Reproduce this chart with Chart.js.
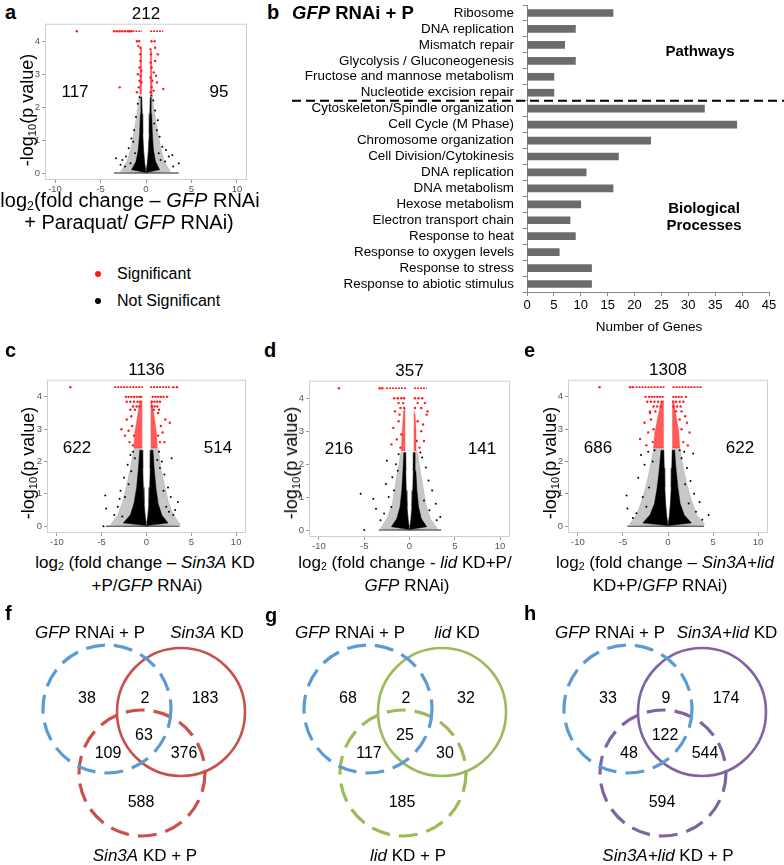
<!DOCTYPE html>
<html lang="en">
<head>
<meta charset="UTF-8">
<title>Paraquat RNA-seq panels</title>
<script src="https://cdn.jsdelivr.net/npm/chart.js"></script>
<style>
  body { margin: 0; background: #fff; font-family: Arial, "Liberation Sans", sans-serif; }
  #page { position: relative; width: 784px; height: 865px; overflow: hidden; }
  canvas { position: absolute; }
  .t { position: absolute; transform: translate(-50%, -50%); white-space: nowrap; line-height: 1; color: #000; }
  .l { position: absolute; transform: translate(0, -50%); white-space: nowrap; line-height: 1; color: #000; }
  .rot { transform: translate(-50%, -50%) rotate(-90deg); }
  .pl { font-weight: bold; font-size: 20px; }
  sub { font-size: 0.62em; vertical-align: -0.28em; line-height: 0; }
  .dot { position: absolute; width: 6px; height: 6px; border-radius: 3px; transform: translate(-50%, -50%); }
</style>
</head>
<body>
<div id="page">
  <canvas id="volcA"></canvas>
  <canvas id="volcC"></canvas>
  <canvas id="volcD"></canvas>
  <canvas id="volcE"></canvas>
  <canvas id="goBar"></canvas>
  <canvas id="vennF"></canvas>
  <canvas id="vennG"></canvas>
  <canvas id="vennH"></canvas>

  <!-- panel a -->
  <div class="l pl" style="left:5px;top:12px">a</div>
  <div class="t rot" style="left:27px;top:110px;font-size:18px">-log<sub>10</sub>(p value)</div>
  <div class="t" style="left:130px;top:200px;font-size:20px">log<sub>2</sub>(fold change – <i>GFP</i> RNAi</div>
  <div class="t" style="left:129px;top:222px;font-size:20px">+ Paraquat/ <i>GFP</i> RNAi)</div>
  <div class="dot" style="left:98px;top:274px;background:#ff1a1a"></div>
  <div class="l" style="left:117px;top:274px;font-size:16px">Significant</div>
  <div class="dot" style="left:98px;top:301px;background:#000"></div>
  <div class="l" style="left:117px;top:301px;font-size:16px">Not Significant</div>

  <!-- panel b -->
  <div class="l pl" style="left:267px;top:12px">b</div>
  <div class="l" style="left:292px;top:13px;font-size:18.5px;font-weight:bold"><i>GFP</i> RNAi + P</div>
  <div class="t" style="left:700px;top:50px;font-size:15px;font-weight:bold">Pathways</div>
  <div class="t" style="left:704px;top:207px;font-size:15px;font-weight:bold">Biological</div>
  <div class="t" style="left:704px;top:224px;font-size:15px;font-weight:bold">Processes</div>
  <div class="t" style="left:649px;top:327px;font-size:13.5px">Number of Genes</div>

  <!-- panels c, d, e -->
  <div class="l pl" style="left:5px;top:350px">c</div>
  <div class="t rot" style="left:28px;top:463px;font-size:18px">-log<sub>10</sub>(p value)</div>
  <div class="t" style="left:145px;top:562px;font-size:17px">log<sub>2</sub> (fold change – <i>Sin3A</i> KD</div>
  <div class="t" style="left:147px;top:585px;font-size:17px">+P/<i>GFP</i> RNAi)</div>

  <div class="l pl" style="left:264px;top:350px">d</div>
  <div class="t rot" style="left:291px;top:463px;font-size:18px">-log<sub>10</sub>(p value)</div>
  <div class="t" style="left:405px;top:562px;font-size:17px">log<sub>2</sub> (fold change - <i>lid</i> KD+P/</div>
  <div class="t" style="left:407px;top:585px;font-size:17px"><i>GFP</i> RNAi)</div>

  <div class="l pl" style="left:524px;top:350px">e</div>
  <div class="t rot" style="left:550px;top:463px;font-size:18px">-log<sub>10</sub>(p value)</div>
  <div class="t" style="left:665px;top:562px;font-size:17px">log<sub>2</sub> (fold change – <i>Sin3A+lid</i></div>
  <div class="t" style="left:660px;top:585px;font-size:17px">KD+P/<i>GFP</i> RNAi)</div>

  <!-- panels f, g, h -->
  <div class="l pl" style="left:5px;top:613px">f</div>
  <div class="t" style="left:90px;top:632px;font-size:17px"><i>GFP</i> RNAi + P</div>
  <div class="t" style="left:207px;top:632px;font-size:17px"><i>Sin3A</i> KD</div>
  <div class="t" style="left:145px;top:855px;font-size:17px"><i>Sin3A</i> KD + P</div>

  <div class="l pl" style="left:265px;top:615px">g</div>
  <div class="t" style="left:350px;top:632px;font-size:17px"><i>GFP</i> RNAi + P</div>
  <div class="t" style="left:457px;top:632px;font-size:17px"><i>lid</i> KD</div>
  <div class="t" style="left:408px;top:855px;font-size:17px"><i>lid</i> KD + P</div>

  <div class="l pl" style="left:524px;top:613px">h</div>
  <div class="t" style="left:610px;top:632px;font-size:17px"><i>GFP</i> RNAi + P</div>
  <div class="t" style="left:727px;top:632px;font-size:17px"><i>Sin3A+lid</i> KD</div>
  <div class="t" style="left:668px;top:855px;font-size:17px"><i>Sin3A+lid</i> KD + P</div>
</div>

<script>
// ---- data ----
// GO / KEGG enrichment (panel b)
const goTerms = ['Ribosome', 'DNA replication', 'Mismatch repair', 'Glycolysis / Gluconeogenesis',
  'Fructose and mannose metabolism', 'Nucleotide excision repair',
  'Cytoskeleton/Spindle organization', 'Cell Cycle (M Phase)', 'Chromosome organization',
  'Cell Division/Cytokinesis', 'DNA replication', 'DNA metabolism', 'Hexose metabolism',
  'Electron transport chain', 'Response to heat', 'Response to oxygen levels',
  'Response to stress', 'Response to abiotic stimulus'];
const goCounts = [16, 9, 7, 9, 5, 5, 33, 39, 23, 17, 11, 16, 10, 8, 9, 6, 12, 12];
const goTicks = [0, 5, 10, 15, 20, 25, 30, 35, 40, 45];

// volcano tick labels
const volcXTicks = [-10, -5, 0, 5, 10];
const volcYTicks = [0, 1, 2, 3, 4];

// significant genes: [total, down, up]
const degA = [212, 117, 95];
const degC = [1136, 622, 514];
const degD = [357, 216, 141];
const degE = [1308, 686, 622];

// venn counts: [A only, A&B, B only, all three, A&C, B&C, C only]
const vennF = [38, 2, 183, 63, 109, 376, 588];
const vennG = [68, 2, 32, 25, 117, 30, 185];
const vennH = [33, 9, 174, 122, 48, 544, 594];

// volcano a (GFP RNAi + paraquat) -- [log2FC, -log10 p]
const volcA_sig = [[-7.6,4.3],[-3.5,4.3],[-3.2,4.3],[-2.9,4.3],[-2.6,4.3],[-2.3,4.3],[-2.0,4.3],[-1.8,4.3],[-1.6,4.3],
  [-1.0,4.0],[-0.75,4.0],[0.6,4.0],[0.95,4.0],[-0.85,3.85],[-0.6,3.8],[0.5,3.75],[1.0,3.8],[-0.65,3.6],[0.55,3.6],
  [1.3,3.6],[-0.6,3.4],[0.5,3.35],[1.0,3.4],[-0.7,3.2],[-0.5,3.1],[0.6,3.2],[0.85,3.05],[-0.9,3.0],[-0.6,2.95],
  [0.5,2.9],[1.1,2.95],[-0.7,2.8],[-0.5,2.75],[0.7,2.8],[1.2,2.75],[-2.9,2.6],[-0.8,2.6],[0.6,2.6],[0.85,2.5],
  [1.9,2.55],[-1.0,2.45],[0.5,2.45]];
const volcA_top = [[-1.5,-0.45],[0.45,1.9]];
const volcA_redL = [[-0.46,2.4],[-0.68,2.4],[-0.6,3.8],[-0.46,3.8]];
const volcA_redR = [[0.46,2.4],[0.68,2.4],[0.6,3.7],[0.46,3.7]];
const volcA_ns = [[3.6,0.3],[-3.3,0.45],[-2.6,0.4],[-2.2,0.5],[2.5,0.5],[2.9,0.55],[-1.9,0.75],[-1.6,1.05],[-1.3,1.3],
  [1.5,1.1],[1.8,0.8],[1.3,1.6],[-1.1,1.7],[1.0,1.9],[-0.9,2.1],[0.8,2.2],[-1.4,0.95],[2.1,0.35],[-2.8,0.25],[1.6,0.4],
  [-1.2,0.6],[1.2,1.3],[0.9,1.5],[-0.7,2.3],[0.6,2.35],[2.2,0.7],[-2.3,0.2],[3.0,0.2],[-1.7,0.3],[1.4,0.6]];
const volcA_coreL = [[0,0.02],[-1.6,0.1],[-1.1,0.35],[-0.85,0.7],[-0.7,1.2],[-0.62,1.8],[-0.56,2.3],[-0.47,2.3],
  [-0.42,1.8],[-0.36,1.2],[-0.28,0.7],[-0.15,0.3],[-0.04,0.1]];
const volcA_coreR = [[0,0.02],[1.5,0.1],[1.05,0.35],[0.82,0.7],[0.7,1.2],[0.62,1.8],[0.57,2.3],[0.47,2.3],
  [0.42,1.8],[0.36,1.2],[0.28,0.7],[0.15,0.3],[0.04,0.1]];
const volcA_haloL = [[0,0],[-2.8,0.05],[-2.1,0.35],[-1.6,0.8],[-1.3,1.3],[-1.0,1.8],[-0.75,2.35],[-0.47,2.35],
  [-0.36,1.2],[-0.04,0.05]];
const volcA_haloR = [[0,0],[2.7,0.05],[2.0,0.35],[1.6,0.8],[1.25,1.3],[0.95,1.8],[0.7,2.35],[0.47,2.35],
  [0.36,1.2],[0.04,0.05]];
const volcA_base = [-3.5, 3.6];

// volcano c (Sin3A KD + P)
const volcC_sig = [[-8.5,4.3],[3.0,4.3],[3.4,4.3],
  [-2.3,4.0],[-2.0,4.0],[-1.7,4.0],[-1.4,4.0],[-1.1,4.0],[-0.8,4.0],[-0.6,4.0],[0.7,4.0],[1.0,4.0],[1.3,4.0],[1.6,4.0],[1.9,4.0],[2.3,4.0],
  [-2.2,3.85],[-1.8,3.85],[-1.4,3.85],[-1.0,3.85],[-0.7,3.85],[0.6,3.85],[0.9,3.85],[1.2,3.85],[1.5,3.85],
  [-1.5,3.7],[-1.1,3.7],[-0.8,3.7],[0.6,3.7],[0.9,3.7],[1.2,3.7],
  [-1.8,3.6],[-1.3,3.6],[0.8,3.6],[1.4,3.6],[-2.8,3.0],[-2.2,3.3],[-1.9,2.6],[-1.6,3.1],[-1.4,2.8],[-2.4,2.8],
  [-1.7,3.4],[-2.0,2.95],[-1.5,2.5],[2.1,3.3],[1.8,2.9],[1.5,2.6],[2.6,3.2],[1.3,3.5],[1.6,3.1],[2.0,2.6],[1.3,2.8]];
const volcC_top = [[-3.6,-0.4],[0.4,2.6]];
const volcC_redL = [[-0.47,2.42],[-1.4,2.42],[-1.3,2.9],[-1.0,3.4],[-0.75,3.8],[-0.47,3.9]];
const volcC_redR = [[0.47,2.42],[1.2,2.42],[1.1,2.9],[0.85,3.4],[0.6,3.8],[0.47,3.9]];
const volcC_ns = [[-4.5,0.55],[-4.6,0.95],[3.5,0.75],[3.2,0.5],[2.8,2.1],[-2.9,1.1],[-2.5,1.5],[-2.1,1.9],[-1.8,2.2],
  [2.4,1.2],[2.0,1.6],[1.7,2.0],[-3.2,0.6],[-3.6,0.35],[3.0,0.35],[2.7,0.9],[-2.4,0.9],[-1.5,2.3],[1.4,2.3],[-2.0,1.3],
  [2.2,0.6],[-2.7,0.3],[1.9,1.1],[-1.7,1.7],[1.5,1.8],[-3.0,0.85],[2.5,0.45],[-1.3,2.1],[1.2,2.05],[-4.8,0]];
const volcC_coreL = [[0,0.02],[-2.6,0.1],[-1.8,0.35],[-1.4,0.7],[-1.1,1.2],[-0.9,1.8],[-0.75,2.35],[-0.47,2.35],
  [-0.42,1.8],[-0.36,1.2],[-0.28,0.7],[-0.15,0.3],[-0.04,0.1]];
const volcC_coreR = [[0,0.02],[2.4,0.1],[1.7,0.35],[1.3,0.7],[1.05,1.2],[0.85,1.8],[0.72,2.35],[0.47,2.35],
  [0.42,1.8],[0.36,1.2],[0.28,0.7],[0.15,0.3],[0.04,0.1]];
const volcC_haloL = [[0,0],[-4.0,0.05],[-3.2,0.35],[-2.6,0.8],[-2.2,1.3],[-1.8,1.8],[-1.4,2.4],[-0.47,2.4],
  [-0.36,1.2],[-0.04,0.05]];
const volcC_haloR = [[0,0],[3.8,0.05],[3.0,0.35],[2.4,0.8],[2.0,1.3],[1.6,1.8],[1.3,2.4],[0.47,2.4],
  [0.36,1.2],[0.04,0.05]];
const volcC_base = [-4.5, 3.7];

// volcano d (lid KD + P)
const volcD_sig = [[-7.8,4.3],[-3.3,4.3],[-3.0,4.3],
  [-1.7,4.0],[-1.3,4.0],[-0.9,4.0],[-0.6,4.0],[0.6,4.0],[1.0,4.0],[1.4,4.0],
  [-1.2,3.85],[-0.7,3.85],[0.9,3.85],[1.7,3.85],[-1.0,3.7],[-0.6,3.7],[0.6,3.7],[1.3,3.7],
  [-1.8,3.1],[-1.4,2.75],[-1.2,3.3],[-2.0,2.6],[1.3,3.0],[1.6,2.7],[1.9,3.5],[1.1,2.5],[-1.0,2.5],[1.5,3.2],
  [-1.6,3.6],[2.0,3.6],[-0.9,2.9],[0.9,3.3],[-1.1,3.5],[0.8,2.7]];
const volcD_top = [[-2.6,-0.4],[0.5,1.9]];
const volcD_redL = [[-0.47,2.4],[-0.9,2.4],[-0.8,3.0],[-0.65,3.6],[-0.47,3.7]];
const volcD_redR = [[0.47,2.4],[0.8,2.4],[0.72,3.0],[0.62,3.5],[0.47,3.6]];
const volcD_ns = [[-5.4,1.1],[-4.0,0.95],[-3.7,0.65],[-3.2,0.3],[3.4,0.4],[2.9,0.8],[2.5,1.2],[-2.8,0.5],[-2.3,1.0],
  [-1.9,1.6],[2.1,1.5],[1.8,1.9],[-1.5,2.0],[1.4,2.2],[-2.5,2.1],[-1.2,2.3],[2.2,0.6],[-2.0,0.7],[1.6,0.9],[-1.7,1.2],
  [3.0,0.3],[-2.6,1.4],[1.2,2.35],[-1.3,1.8],[-5.0,0]];
const volcD_coreL = [[0,0.02],[-2.0,0.1],[-1.4,0.35],[-1.05,0.7],[-0.85,1.2],[-0.72,1.8],[-0.62,2.35],[-0.47,2.35],
  [-0.42,1.8],[-0.36,1.2],[-0.28,0.7],[-0.15,0.3],[-0.04,0.1]];
const volcD_coreR = [[0,0.02],[1.9,0.1],[1.3,0.35],[1.0,0.7],[0.82,1.2],[0.7,1.8],[0.62,2.35],[0.47,2.35],
  [0.42,1.8],[0.36,1.2],[0.28,0.7],[0.15,0.3],[0.04,0.1]];
const volcD_haloL = [[0,0],[-3.2,0.05],[-2.5,0.35],[-1.9,0.8],[-1.6,1.3],[-1.3,1.8],[-0.95,2.35],[-0.47,2.35],
  [-0.36,1.2],[-0.04,0.05]];
const volcD_haloR = [[0,0],[3.1,0.05],[2.3,0.35],[1.8,0.8],[1.5,1.3],[1.2,1.8],[0.9,2.35],[0.47,2.35],
  [0.36,1.2],[0.04,0.05]];
const volcD_base = [-3.4, 3.5];

// volcano e (Sin3A+lid KD + P)
const volcE_sig = [[-7.6,4.3],[-4.2,4.3],[-3.9,4.3],
  [-2.5,4.0],[-2.1,4.0],[-1.8,4.0],[-1.5,4.0],[-1.2,4.0],[-0.9,4.0],[-0.6,4.0],[0.6,4.0],[0.9,4.0],[1.2,4.0],[1.5,4.0],[2.0,4.0],
  [-2.3,3.85],[-1.9,3.85],[-1.5,3.85],[-1.1,3.85],[-0.7,3.85],[0.6,3.85],[0.9,3.85],[1.3,3.85],[1.7,3.85],
  [-1.6,3.7],[-1.2,3.7],[-0.8,3.7],[0.6,3.7],[1.0,3.7],[1.4,3.7],[-2.0,3.55],[-1.4,3.55],[0.9,3.55],[1.5,3.55],
  [-2.6,3.2],[-2.2,2.9],[-1.9,3.3],[-1.7,2.6],[-2.4,2.5],[-1.6,3.0],[-3.1,2.7],[2.4,2.9],[2.1,3.2],[1.7,2.6],
  [1.5,3.0],[2.2,2.5],[1.3,3.3],[-2.0,3.5],[1.9,3.4]];
const volcE_top = [[-3.6,-0.4],[0.5,3.8]];
const volcE_redL = [[-0.47,2.42],[-1.6,2.42],[-1.45,2.9],[-1.1,3.4],[-0.8,3.8],[-0.47,3.9]];
const volcE_redR = [[0.47,2.42],[1.3,2.42],[1.2,2.9],[0.9,3.4],[0.65,3.8],[0.47,3.9]];
const volcE_ns = [[-4.6,0.95],[-4.5,0.55],[4.5,0.35],[3.5,0.75],[2.8,2.25],[-3.3,1.5],[-3.0,2.2],[-2.6,1.9],[2.5,1.4],
  [2.1,1.8],[-2.2,2.3],[1.8,2.3],[-3.5,0.4],[3.1,0.45],[2.9,1.0],[-2.8,0.9],[-2.1,1.2],[2.3,0.7],[-1.7,2.0],[1.5,2.1],
  [-3.9,0.25],[3.8,0.2],[-2.4,0.6],[1.9,1.3],[-1.5,2.35],[1.3,2.35]];
const volcE_coreL = [[0,0.02],[-2.8,0.1],[-2.0,0.35],[-1.5,0.7],[-1.2,1.2],[-0.95,1.8],[-0.78,2.35],[-0.47,2.35],
  [-0.42,1.8],[-0.36,1.2],[-0.28,0.7],[-0.15,0.3],[-0.04,0.1]];
const volcE_coreR = [[0,0.02],[2.6,0.1],[1.8,0.35],[1.35,0.7],[1.1,1.2],[0.88,1.8],[0.74,2.35],[0.47,2.35],
  [0.42,1.8],[0.36,1.2],[0.28,0.7],[0.15,0.3],[0.04,0.1]];
const volcE_haloL = [[0,0],[-4.3,0.05],[-3.5,0.35],[-2.9,0.8],[-2.4,1.3],[-2.0,1.8],[-1.6,2.4],[-0.47,2.4],
  [-0.36,1.2],[-0.04,0.05]];
const volcE_haloR = [[0,0],[4.1,0.05],[3.2,0.35],[2.6,0.8],[2.1,1.3],[1.7,1.8],[1.35,2.4],[0.47,2.4],
  [0.36,1.2],[0.04,0.05]];
const volcE_base = [-4.5, 4.0];

// ---- layout ----
Chart.defaults.font.family = 'Arial, "Liberation Sans", sans-serif';
Chart.defaults.animation = false;
Chart.defaults.responsive = false;
Chart.defaults.plugins.legend.display = false;
Chart.defaults.plugins.tooltip.enabled = false;

const page = document.getElementById('page');
const RED = '#ff1a1a';

function txt(html, x, y, size) {
  const d = document.createElement('div');
  d.className = 't';
  d.style.left = x + 'px';
  d.style.top = y + 'px';
  d.style.fontSize = size + 'px';
  d.innerHTML = html;
  page.appendChild(d);
}

function pts(arr) { return arr.map(p => ({x: p[0], y: p[1]})); }

// light grey panel border for the volcano plots
const framePlugin = {
  id: 'frame',
  beforeDatasetsDraw(chart) {
    const a = chart.chartArea, ctx = chart.ctx;
    ctx.save();
    ctx.strokeStyle = '#cfcfcf';
    ctx.lineWidth = 1;
    ctx.strokeRect(a.left + 0.5, a.top + 0.5, a.right - a.left - 1, a.bottom - a.top - 1);
    ctx.restore();
  }
};

function drawVolcano(id, box, v) {
  const cv = document.getElementById(id);
  const padL = 22, padB = 16, padT = 4, padR = 4;
  cv.style.left = (box[0] - padL) + 'px';
  cv.style.top = (box[1] - padT) + 'px';
  cv.width = box[2] - box[0] + padL + padR;
  cv.height = box[3] - box[1] + padT + padB;

  const shape = (arr, col) => ({type: 'line', data: pts(arr), fill: 'shape', backgroundColor: col,
    borderColor: col, borderWidth: 0.5, pointRadius: 0});
  const seg = (s, y, col, w, dash) => ({type: 'line', data: [{x: s[0], y: y}, {x: s[1], y: y}],
    borderColor: col, borderWidth: w, borderDash: dash || [], pointRadius: 0, fill: false});

  const datasets = [
    {data: pts(v.sig), pointRadius: 1.2, pointBackgroundColor: RED, pointBorderWidth: 0},
    ...v.top.map(s => seg(s, 4.3, RED, 1.6, [2, 1])),
    shape(v.redL, 'rgba(255,26,26,0.72)'), shape(v.redR, 'rgba(255,26,26,0.72)'),
    {data: pts(v.ns), pointRadius: 1, pointBackgroundColor: '#000', pointBorderWidth: 0},
    shape(v.coreL, '#000'), shape(v.coreR, '#000'),
    shape(v.haloL, 'rgba(0,0,0,0.22)'), shape(v.haloR, 'rgba(0,0,0,0.22)'),
    seg(v.base, 0, '#666', 1.5)
  ];

  const tickFont = {size: 9.5};
  new Chart(cv, {
    type: 'scatter',
    data: {datasets},
    options: {
      layout: {padding: {top: padT, right: padR}},
      scales: {
        x: {
          type: 'linear', min: -11.1, max: 11.1,
          afterBuildTicks: s => { s.ticks = volcXTicks.map(t => ({value: t})); },
          afterFit: s => { s.height = padB; },
          ticks: {font: tickFont, color: '#555', padding: 1, maxRotation: 0},
          grid: {drawOnChartArea: false, tickLength: 3, color: '#999'},
          border: {display: false}
        },
        y: {
          type: 'linear', min: -0.21, max: 4.53,
          afterBuildTicks: s => { s.ticks = volcYTicks.map(t => ({value: t})); },
          afterFit: s => { s.width = padL; },
          ticks: {font: tickFont, color: '#555', padding: 2},
          grid: {drawOnChartArea: false, tickLength: 3, color: '#999'},
          border: {display: false}
        }
      }
    },
    plugins: [framePlugin]
  });

  // totals above, down-regulated left, up-regulated right
  const cx = (box[0] + box[2]) / 2;
  txt(String(v.deg[0]), cx, box[1] - 7, 17);
  txt(String(v.deg[1]), box[0] + 30, box[1] + 71, 17);
  txt(String(v.deg[2]), box[2] - 28, box[1] + 71, 17);
}

drawVolcano('volcA', [45, 20, 247, 180], {sig: volcA_sig, top: volcA_top, redL: volcA_redL, redR: volcA_redR,
  ns: volcA_ns, coreL: volcA_coreL, coreR: volcA_coreR, haloL: volcA_haloL, haloR: volcA_haloR,
  base: volcA_base, deg: degA});
drawVolcano('volcC', [47, 376, 246, 533], {sig: volcC_sig, top: volcC_top, redL: volcC_redL, redR: volcC_redR,
  ns: volcC_ns, coreL: volcC_coreL, coreR: volcC_coreR, haloL: volcC_haloL, haloR: volcC_haloR,
  base: volcC_base, deg: degC});
drawVolcano('volcD', [309, 377, 510, 537], {sig: volcD_sig, top: volcD_top, redL: volcD_redL, redR: volcD_redR,
  ns: volcD_ns, coreL: volcD_coreL, coreR: volcD_coreR, haloL: volcD_haloL, haloR: volcD_haloR,
  base: volcD_base, deg: degD});
drawVolcano('volcE', [568, 376, 768, 533], {sig: volcE_sig, top: volcE_top, redL: volcE_redL, redR: volcE_redR,
  ns: volcE_ns, coreL: volcE_coreL, coreR: volcE_coreR, haloL: volcE_haloL, haloR: volcE_haloR,
  base: volcE_base, deg: degE});

// ---- panel b: horizontal bars ----
const barCv = document.getElementById('goBar');

// dashed separator between pathways and biological processes
const splitPlugin = {
  id: 'split',
  afterDatasetsDraw(chart) {
    const y = chart.scales.y;
    const py = (y.getPixelForValue(5) + y.getPixelForValue(6)) / 2;
    const ctx = chart.ctx;
    ctx.save();
    ctx.strokeStyle = '#000';
    ctx.lineWidth = 2;
    ctx.setLineDash([9, 5]);
    ctx.beginPath();
    ctx.moveTo(7, py);
    ctx.lineTo(chart.width, py);
    ctx.stroke();
    ctx.restore();
  }
};

function makeBar(top, height) {
  barCv.style.left = '285px';
  barCv.style.top = top + 'px';
  barCv.width = 499;
  barCv.height = height;
  return new Chart(barCv, {
    type: 'bar',
    data: {labels: goTerms, datasets: [{data: goCounts, backgroundColor: '#6b6b6b', barThickness: 7}]},
    options: {
      indexAxis: 'y',
      layout: {padding: {top: 0, right: 15}},
      scales: {
        x: {
          min: 0, max: 45,
          afterBuildTicks: s => { s.ticks = goTicks.map(t => ({value: t})); },
          afterFit: s => { s.height = 28; },
          ticks: {font: {size: 13}, color: '#000', padding: 2},
          grid: {drawOnChartArea: false, tickLength: 4, color: '#888'},
          border: {color: '#888'}
        },
        y: {
          afterFit: s => { s.width = 242; },
          ticks: {font: {size: 13.4}, color: '#000', padding: 9, autoSkip: false},
          grid: {drawOnChartArea: false, tickLength: 4, color: '#888', offset: true},
          border: {color: '#888'}
        }
      }
    },
    plugins: [splitPlugin]
  });
}
// plot area should run from y=5 to y=292 on the page
let bar = makeBar(0, 320);
const t0 = bar.chartArea.top;
bar.destroy();
bar = makeBar(5 - t0, 287 + t0 + 28);

// ---- panels f, g, h: venn diagrams ----
// circle geometry relative to panel f; panels g and h are shifted right
const vennCircles = [
  {x: 107, y: 709, r: 64, dash: true},
  {x: 181, y: 712, r: 64, dash: false},
  {x: 142, y: 773, r: 63, dash: true}
];
const vennSpots = [[87, 698], [145, 698], [205, 698], [144, 735], [108, 753], [184, 753], [141, 802]];

const dashPlugin = {
  id: 'dash',
  beforeDatasetDraw(chart, args) {
    chart.ctx.setLineDash(chart.data.datasets[args.index].dash || []);
  },
  afterDatasetDraw(chart) { chart.ctx.setLineDash([]); }
};

function drawVenn(id, off, colors, counts) {
  const cv = document.getElementById(id);
  const L = off, T = 630, W = 262, H = 235;
  cv.style.left = L + 'px';
  cv.style.top = T + 'px';
  cv.width = W;
  cv.height = H;
  const datasets = vennCircles.map((c, i) => ({
    data: [{x: c.x + off, y: c.y, r: c.r}],
    borderColor: colors[i],
    backgroundColor: 'rgba(0,0,0,0)',
    borderWidth: c.dash ? 3.2 : 2.6,
    hoverBorderWidth: c.dash ? 3.2 : 2.6,
    dash: c.dash ? [19, 9] : [],
    clip: false
  }));
  const ch = new Chart(cv, {
    type: 'bubble',
    data: {datasets},
    options: {
      layout: {padding: 0},
      scales: {
        x: {display: false, min: L, max: L + W},
        y: {display: false, min: T, max: T + H, reverse: true}
      }
    },
    plugins: [dashPlugin]
  });
  // bubble charts pad the plot area by the radius; map one unit to one page pixel
  const ca = ch.chartArea;
  ch.options.scales.x.min = L + ca.left;
  ch.options.scales.x.max = L + ca.right;
  ch.options.scales.y.min = T + ca.top;
  ch.options.scales.y.max = T + ca.bottom;
  ch.update();
  counts.forEach((n, i) => txt(String(n), vennSpots[i][0] + off, vennSpots[i][1], 16));
}

const BLUE = '#5b9bd5';
drawVenn('vennF', 0, [BLUE, '#c9504c', '#c9504c'], vennF);
drawVenn('vennG', 261, [BLUE, '#9bbb59', '#9bbb59'], vennG);
drawVenn('vennH', 521, [BLUE, '#8064a2', '#8064a2'], vennH);
</script>
</body>
</html>
